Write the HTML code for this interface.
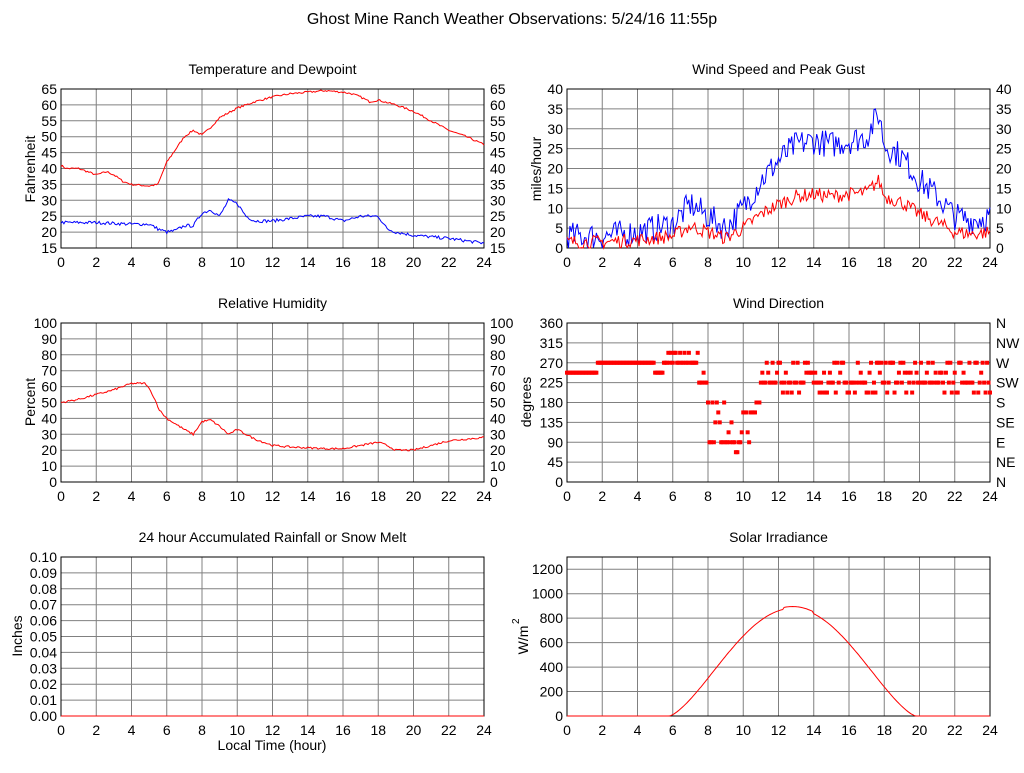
<!DOCTYPE html>
<html><head><style>
body{margin:0;background:#fff;}
svg text{font-family:"Liberation Sans",sans-serif;font-size:14px;fill:#000;}
</style></head><body>
<svg id="s" width="1024" height="768" xmlns="http://www.w3.org/2000/svg">
<text x="512" y="24" text-anchor="middle" style="font-size:16px">Ghost Mine Ranch Weather Observations: 5/24/16 11:55p</text>
</svg>
<script>
var S=document.getElementById('s'),NS="http://www.w3.org/2000/svg";
function el(t,a,txt){var e=document.createElementNS(NS,t);for(var k in a)e.setAttribute(k,a[k]);if(txt!=null)e.textContent=txt;S.appendChild(e);return e;}
var seed=7;function rnd(){seed=(seed*16807)%2147483647;return seed/2147483647;}
function interp(pts,t){for(var i=0;i<pts.length-1;i++){if(t<=pts[i+1][0]){var a=pts[i],b=pts[i+1];return a[1]+(b[1]-a[1])*(t-a[0])/(b[0]-a[0]);}}return pts[pts.length-1][1];}
function panel(o){
 var x0=o.x0,x1=o.x0+423,y0=o.y0,y1=o.y0+159;
 o.X=function(t){return x0+(x1-x0)*t/24;};o.Y=function(v){return y1-(y1-y0)*(v-o.min)/(o.max-o.min);};
 el('text',{x:(x0+x1)/2,y:y0-15,'text-anchor':'middle'},o.title);
 for(var h=2;h<24;h+=2)el('line',{x1:o.X(h),x2:o.X(h),y1:y0,y2:y1,stroke:'#808080'});
 for(var h=0;h<=24;h+=2)el('text',{x:o.X(h),y:y1+19,'text-anchor':'middle'},h);
 o.ticks.forEach(function(v,i){var y=o.Y(v);
  if(y>y0+1&&y<y1-1)el('line',{x1:x0,x2:x1,y1:y,y2:y,stroke:'#808080'});
  el('text',{x:x0-4,y:y+5,'text-anchor':'end'},o.fmt?o.fmt(v):v);
  if(o.right)el('text',{x:x1+6,y:y+5},o.right[i]);});
 el('rect',{x:x0,y:y0,width:x1-x0,height:y1-y0,fill:'none',stroke:'#000'});
 return o;}
function line(o,pts,col,noise,n){var d='';n=n||400;for(var i=0;i<=n;i++){var t=24*i/n;var v=interp(pts,t)+(noise?(rnd()-0.5)*noise:0);if(v<o.min)v=o.min;d+=(i?'L':'M')+o.X(t).toFixed(1)+' '+o.Y(v).toFixed(1);}el('path',{d:d,fill:'none',stroke:col,'stroke-width':1});}
function ylab(x,y,t){el('text',{x:x,y:y,'text-anchor':'middle',transform:'rotate(-90 '+x+' '+y+')'},t);}
function rng(a,b,s){var r=[];for(var v=a;v<=b+1e-9;v+=s)r.push(Math.round(v*100)/100);return r;}

// Temp
var T=panel({x0:61,y0:89,min:15,max:65,title:'Temperature and Dewpoint',ticks:rng(15,65,5)});
rng(15,65,5).forEach(function(v){el('text',{x:490,y:T.Y(v)+5},v);});
ylab(35,169,'Fahrenheit');
line(T,[[0,41],[0.3,40],[1,40],[1.5,39],[2,38],[2.6,39],[3,38],[3.5,36],[4,35],[5,34.5],[5.5,35],[6,42],[6.5,46],[7,50],[7.5,52],[8,50.5],[8.5,53],[9,56],[10,59],[11,61],[12,62.5],[13,63.5],[14,64],[15,64.5],[16,64],[16.5,63.5],[17,62.5],[17.5,61],[18,61.5],[19,60],[20,58],[21,55],[22,52],[23,50],[24,47.5]],'#f00',0.6,288);
line(T,[[0,23],[2,23],[4,22.5],[5,22.5],[5.5,21],[6,20],[6.5,20.5],[7,22],[7.5,22],[8,26],[8.5,27],[9,25],[9.5,30],[10,29],[10.5,25],[11,23.5],[12,23.5],[14,25],[15,25],[16,23.5],[17,25],[18,25],[18.5,21],[19,20],[20,19],[22,18],[24,16.5]],'#00f',1,288);

// Wind
var W=panel({x0:567,y0:89,min:0,max:40,title:'Wind Speed and Peak Gust',ticks:rng(0,40,5)});
rng(0,40,5).forEach(function(v){el('text',{x:996,y:W.Y(v)+5},v);});
ylab(541,169,'miles/hour');
var g=[[0,3],[2,3],[4,4],[6,6],[7,11],[8,8],[9,5],[10,10],[11,17],[12,22],[13,26],[14,27],[15,26],[16,27],[17,28],[17.7,34],[18,26],[19,23],[20,17],[21,13],[22,8],[23,7],[24,8]];
line(W,g,'#00f',7,288);
line(W,g.map(function(p){return [p[0],p[1]*0.5];}),'#f00',3.5,288);

// RH
var R=panel({x0:61,y0:323,min:0,max:100,title:'Relative Humidity',ticks:rng(0,100,10)});
rng(0,100,10).forEach(function(v){el('text',{x:490,y:R.Y(v)+5},v);});
ylab(35,402,'Percent');
line(R,[[0,50],[1,52],[2,55],[3,58],[4,62],[4.8,62],[5.2,55],[5.6,45],[6,40],[7,33],[7.5,30],[8,38],[8.5,39],[9,35],[9.5,30],[10,33],[11,27],[12,23],[13,22],[15,21],[16,21],[17,23],[18,25],[18.5,23],[19,20],[20,20],[21,23],[22,26],[23,27],[24,28]],'#f00',1.2,288);

// Wind direction
var D=panel({x0:567,y0:323,min:0,max:360,title:'Wind Direction',ticks:rng(0,360,45),right:['N','NE','E','SE','S','SW','W','NW','N']});
ylab(531,402,'degrees');
for(var i=0;i<=288;i++){var t=24*i/288,v,r=rnd();
 if(t<1.7)v=247.5;else if(t<5)v=270;else if(t<5.5)v=247.5;else if(t<7.5)v=r<0.3?292.5:270;else if(t<8)v=r<0.5?247.5:225;
 else if(t<10.5)v=[90,90,90,112.5,67.5,135,157.5,180][Math.floor(r*8)];else if(t<11)v=r<0.5?157.5:180;
 else v=[225,225,225,247.5,202.5,270][Math.floor(r*6)];
 el('rect',{x:D.X(t)-2,y:D.Y(v)-2,width:4,height:4,fill:'#f00'});}

// Rain
var P=panel({x0:61,y0:557,min:0,max:0.1,title:'24 hour Accumulated Rainfall or Snow Melt',ticks:rng(0,0.1,0.01),fmt:function(v){return v.toFixed(2);}});
ylab(22,636,'Inches');
el('line',{x1:61,x2:484,y1:716,y2:716,stroke:'#f00'});
el('text',{x:272,y:750,'text-anchor':'middle'},'Local Time (hour)');

// Solar
var L=panel({x0:567,y0:557,min:0,max:1300,title:'Solar Irradiance',ticks:rng(0,1200,200)});
el('text',{x:528,y:640,'text-anchor':'middle',transform:'rotate(-90 528 640)'},'W/m');
el('text',{x:519,y:624,style:'font-size:10px',transform:'rotate(-90 519 624)'},'2');
var sp=[];for(var i=0;i<=300;i++){var t=24*i/300,v=0;if(t>5.8&&t<19.8){var u=(t-5.8)/14;v=880*Math.pow(Math.sin(Math.PI*u),1.4);} if(t>12.3&&t<14)v+=15;sp.push([t,v]);}
line(L,sp,'#f00',0,300);
</script>
</body></html>
